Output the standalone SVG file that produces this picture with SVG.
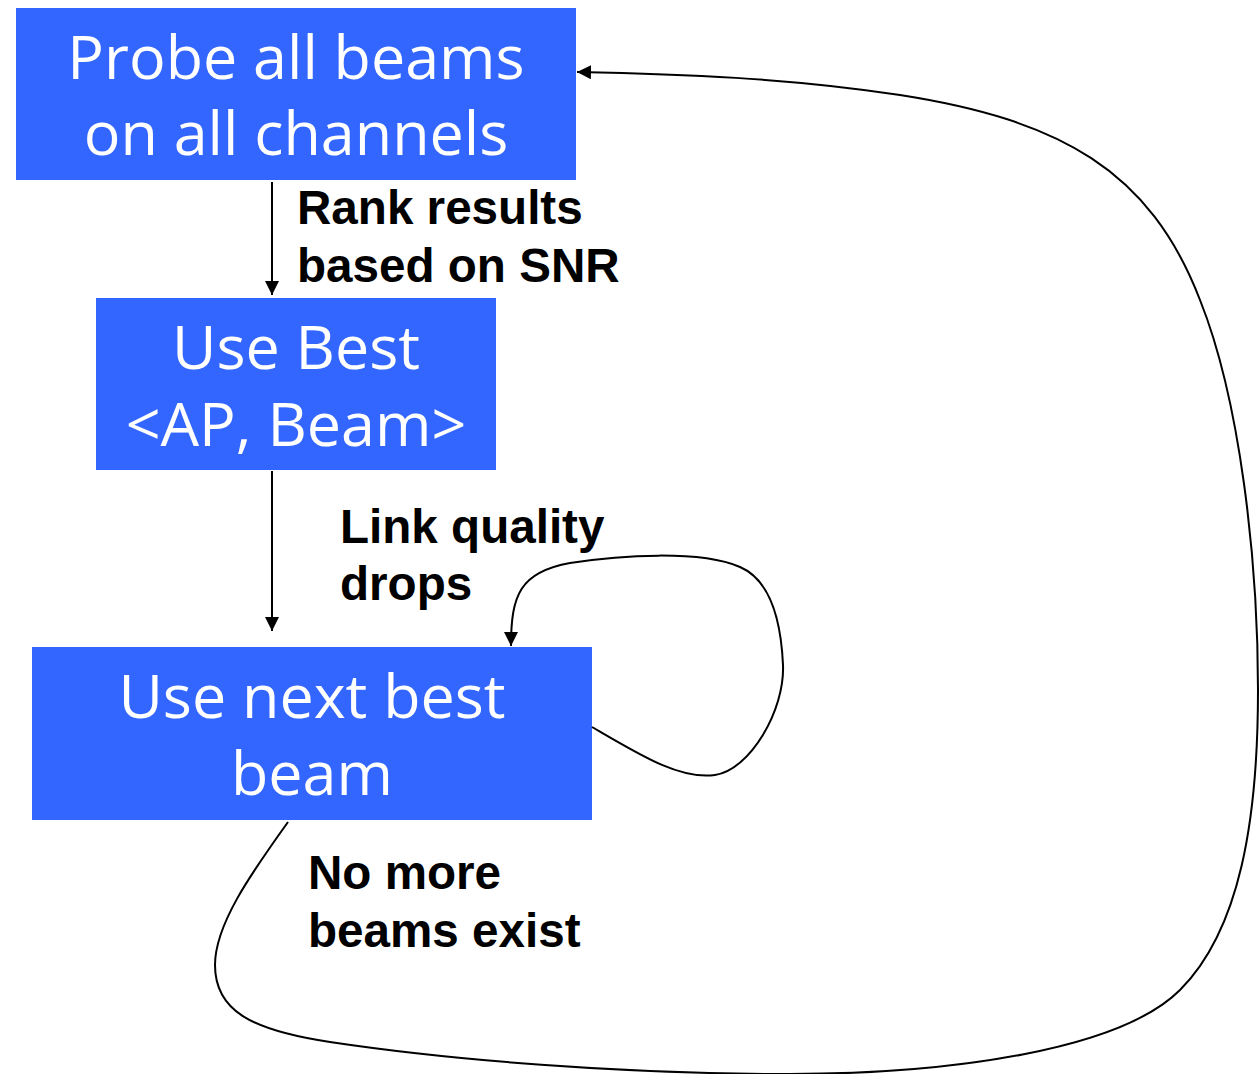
<svg xmlns="http://www.w3.org/2000/svg" width="1260" height="1074" viewBox="0 0 1260 1074">
<style>
.box{fill:#3366FF}
.bt{font-family:"Open Sans","DejaVu Sans",sans-serif;font-size:61px;fill:#fff;text-anchor:middle}
.lb{font-family:"Liberation Sans",Arial,sans-serif;font-size:47.6px;font-weight:bold;fill:#000}
.c{fill:none;stroke:#000;stroke-width:2}
</style>
<defs>
<marker id="ah" viewBox="0 0 10 10" refX="10" refY="5" markerWidth="14" markerHeight="14" markerUnits="userSpaceOnUse" orient="auto">
<path d="M0,0 L10,5 L0,10 z" fill="#000"/>
</marker>
</defs>
<rect width="1260" height="1074" fill="#fff"/>
<g id="node-probe">
<rect class="box" x="16" y="8" width="560" height="172"/>
<text class="bt" x="296" y="79">Probe all beams</text>
<text class="bt" x="296" y="155">on all channels</text>
</g>
<g id="node-usebest">
<rect class="box" x="96" y="298" width="400" height="172"/>
<text class="bt" x="296" y="369">Use Best</text>
<text class="bt" x="296" y="446">&lt;AP, Beam&gt;</text>
</g>
<g id="node-nextbest">
<rect class="box" x="32" y="647" width="560" height="173"/>
<text class="bt" x="312" y="718">Use next best</text>
<text class="bt" x="312" y="795">beam</text>
</g>
<g id="connectors">
<line class="c" x1="272" y1="182" x2="272" y2="295" marker-end="url(#ah)"/>
<line class="c" x1="272" y1="471" x2="272" y2="631" marker-end="url(#ah)"/>
<path class="c" d="M592,727 C640,755 680,780 715,775 C750,770 785,710 783,665 C781,620 770,580 740,567 C700,550 620,555 570,563 C520,572 511,595 511,646" marker-end="url(#ah)"/>
<path class="c" d="M288,822 C250,875 215,925 215,965 C215,1010 250,1030 330,1042 C450,1060 620,1074 790,1074 C950,1074 1120,1050 1180,990 C1240,930 1258,820 1258,690 C1258,560 1240,400 1200,300 C1150,170 1060,120 900,95 C790,78 680,74 577,72" marker-end="url(#ah)"/>
</g>
<g id="labels">
<text class="lb" x="297" y="224">Rank results</text>
<text class="lb" x="297" y="282">based on SNR</text>
<text class="lb" x="340" y="543">Link quality</text>
<text class="lb" x="340" y="600">drops</text>
<text class="lb" x="308" y="889">No more</text>
<text class="lb" x="308" y="947">beams exist</text>
</g>
</svg>
